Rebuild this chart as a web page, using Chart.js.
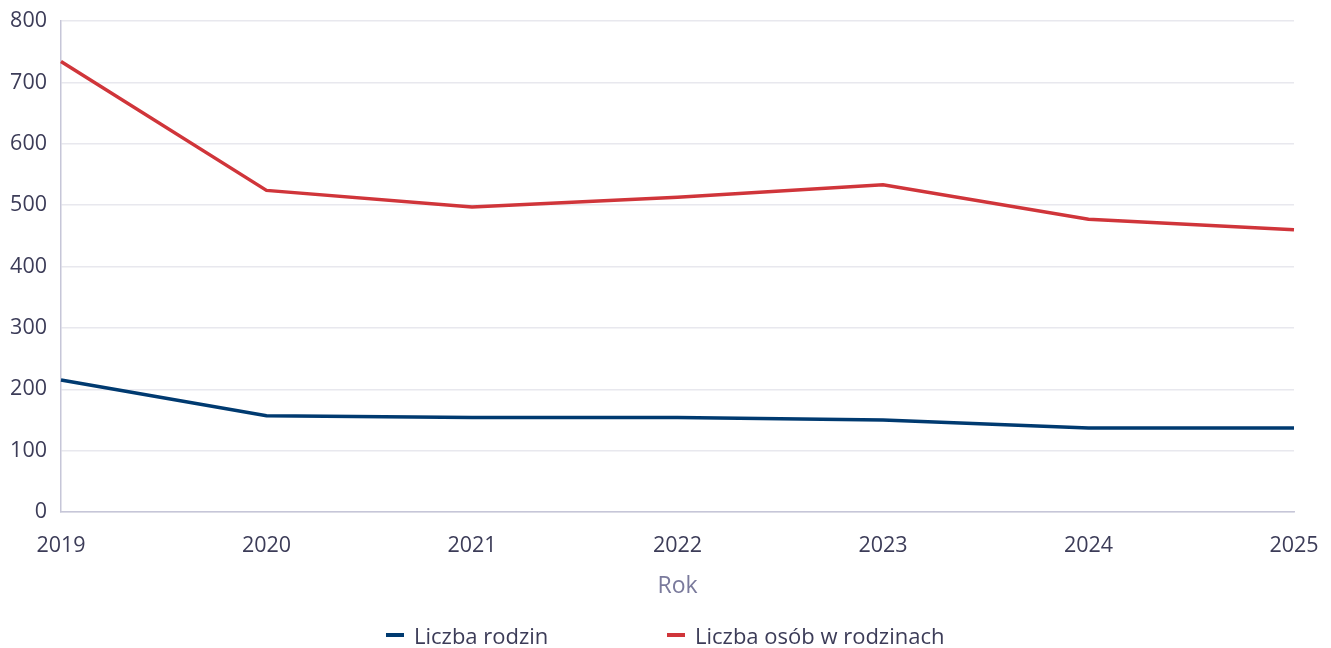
<!DOCTYPE html>
<html>
<head>
<meta charset="utf-8">
<script src="https://cdn.jsdelivr.net/npm/chart.js@4"></script>
<style>
  html, body { margin: 0; padding: 0; background: #fff; }
  #wrap { position: relative; width: 1331px; height: 648px; }
  #legend { position: absolute; left: 0; top: 621px; width: 1331px; height: 28px;
    font-family: "Open Sans", "Noto Sans", sans-serif; font-size: 22px; color: #3c3c58; }
  .item { position: absolute; top: 0; display: flex; align-items: center; height: 28px; white-space: nowrap; }
  .sw { width: 18px; height: 4px; margin-right: 10px; }
</style>
</head>
<body>
<div id="wrap">
  <canvas id="c" width="1331" height="648"></canvas>
  <div id="legend"></div>
</div>
<script>
const years = ['2019', '2020', '2021', '2022', '2023', '2024', '2025'];
const liczbaRodzin = [215, 157, 154, 154, 150, 137, 137];
const liczbaOsob = [734, 524, 497, 513, 533, 477, 460];
const seriesNames = ['Liczba rodzin', 'Liczba osób w rodzinach'];
const seriesColors = ['#003a70', '#d0353a'];
const yTicks = [0, 100, 200, 300, 400, 500, 600, 700, 800];
const xTitle = 'Rok';

const font = "'Open Sans', 'Noto Sans', sans-serif";
const chart = new Chart(document.getElementById('c'), {
  type: 'line',
  data: {
    labels: years,
    datasets: [
      { label: seriesNames[0], data: liczbaRodzin, borderColor: seriesColors[0], backgroundColor: seriesColors[0], borderWidth: 3.5, pointRadius: 0, tension: 0 },
      { label: seriesNames[1], data: liczbaOsob, borderColor: seriesColors[1], backgroundColor: seriesColors[1], borderWidth: 3.5, pointRadius: 0, tension: 0 }
    ]
  },
  options: {
    responsive: false,
    animation: false,
    layout: { padding: { top: 21, right: 37, bottom: 36, left: 0 } },
    plugins: { legend: { display: false }, tooltip: { enabled: false } },
    scales: {
      x: {
        offset: false,
        grid: { display: false, drawTicks: false },
        border: { color: '#c6c6d8', width: 1.5 },
        ticks: { color: '#3c3c58', font: { family: font, size: 21.5 }, padding: 21, maxRotation: 0, autoSkip: false },
        title: { display: true, text: xTitle, color: '#7a7a9c', font: { family: font, size: 23 }, padding: { top: 0, bottom: 12 } },
        afterFit: s => { s.height = 100; s.paddingLeft = 0; s.paddingRight = 0; }
      },
      y: {
        min: 0, max: 800,
        afterBuildTicks: s => { s.ticks = yTicks.map(v => ({ value: v })); },
        grid: { color: '#e8e8ee', lineWidth: 1.5, drawTicks: false },
        border: { color: '#c6c6d8', width: 1.5 },
        ticks: { color: '#3c3c58', font: { family: font, size: 21.5 }, padding: 14 },
        afterFit: s => { s.width = 61; s.paddingTop = 0; s.paddingBottom = 0; }
      }
    }
  }
});

const legend = document.getElementById('legend');
const positions = [386, 667];
seriesNames.forEach((n, i) => {
  const it = document.createElement('div');
  it.className = 'item';
  it.style.left = positions[i] + 'px';
  it.innerHTML = '<span class="sw" style="background:' + seriesColors[i] + '"></span><span>' + n + '</span>';
  legend.appendChild(it);
});
</script>
</body>
</html>
